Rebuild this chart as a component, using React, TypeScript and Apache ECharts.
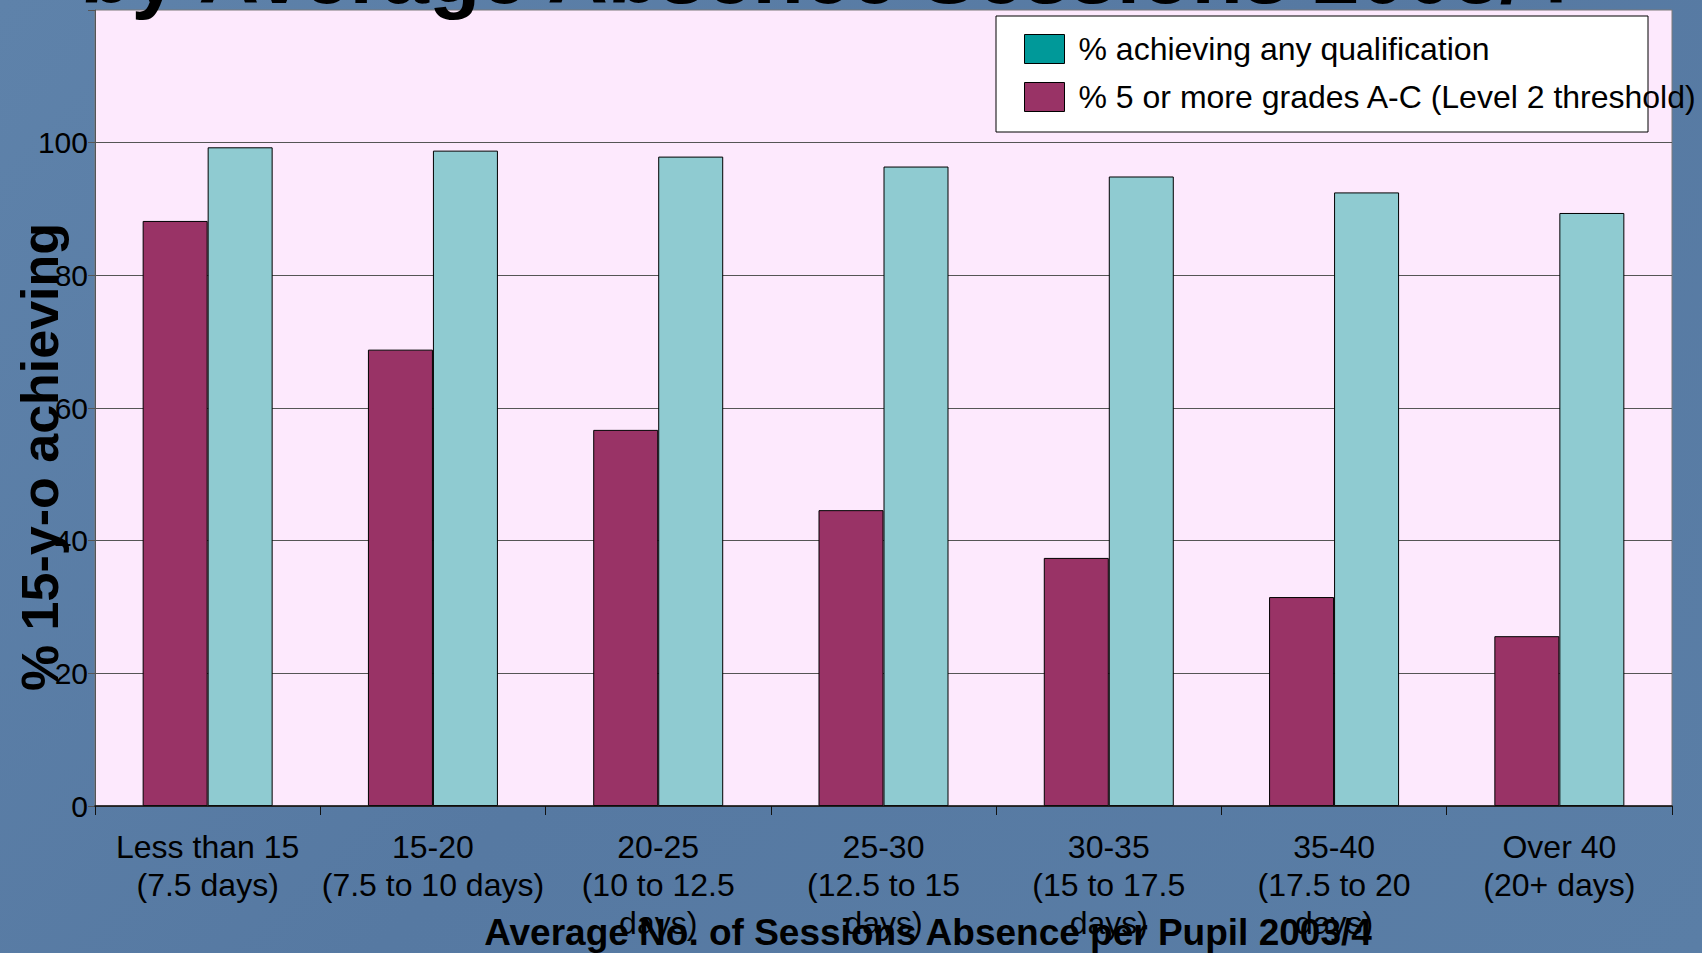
import React, { useEffect, useRef } from "react";
import * as echarts from "echarts";

const categories = [
  "Less than 15\n(7.5 days)",
  "15-20\n(7.5 to 10 days)",
  "20-25\n(10 to 12.5\ndays)",
  "25-30\n(12.5 to 15\ndays)",
  "30-35\n(15 to 17.5\ndays)",
  "35-40\n(17.5 to 20\ndays)",
  "Over 40\n(20+ days)",
];
const level2Values = [88.2, 68.8, 56.7, 44.6, 37.4, 31.5, 25.6];
const anyQualValues = [99.3, 98.8, 97.9, 96.4, 94.9, 92.5, 89.4];
const yTicks = [0, 20, 40, 60, 80, 100];

const NAME_ANY = "% achieving any qualification";
const NAME_L2 = "% 5 or more grades A-C (Level 2 threshold)";
const TITLE = "by Average Absence Sessions 2003/4";
const X_TITLE = "Average No. of Sessions Absence per Pupil 2003/4";
const Y_TITLE = "% 15-y-o achieving";

const FONT = '"Liberation Sans", Arial, Helvetica, sans-serif';

export default function App() {
  const ref = useRef<HTMLDivElement>(null);
  useEffect(() => {
    const chart = echarts.init(ref.current!, null, { renderer: "svg" });
    chart.setOption({
      animation: false,
      backgroundColor: "transparent",
      textStyle: { fontFamily: FONT },
      grid: {
        left: 95,
        right: 30,
        top: 10,
        bottom: 147,
        show: true,
        backgroundColor: "#fde9fd",
        borderColor: "#7a7a7a",
        borderWidth: 1,
      },
      legend: {
        orient: "vertical",
        left: 1024,
        top: 33,
        padding: 0,
        itemWidth: 40,
        itemHeight: 29,
        itemGap: 16,
        icon: "rect",
        z: 6,
        textStyle: { fontSize: 32, color: "#000", fontFamily: FONT, padding: [0, 0, 0, 9] },
        data: [
          { name: NAME_ANY, itemStyle: { color: "#009999", borderColor: "#000", borderWidth: 1 } },
          { name: NAME_L2, itemStyle: { color: "#993366", borderColor: "#000", borderWidth: 1 } },
        ],
      },
      xAxis: {
        type: "category",
        data: categories,
        z: 5,
        axisLine: { lineStyle: { color: "#111", width: 1.5 } },
        axisTick: { show: true, length: 9, lineStyle: { color: "#111" } },
        axisLabel: {
          interval: 0,
          fontSize: 32,
          lineHeight: 38,
          color: "#000",
          margin: 22,
          fontFamily: FONT,
        },
        splitLine: { show: false },
      },
      yAxis: {
        type: "value",
        min: 0,
        max: 120,
        interval: 20,
        axisLine: { show: true, lineStyle: { color: "#555" } },
        axisTick: { show: true, length: 7, lineStyle: { color: "#555" } },
        axisLabel: {
          fontSize: 30,
          color: "#000",
          margin: 7,
          fontFamily: FONT,
          formatter: (v: number) => (yTicks.indexOf(v) >= 0 ? String(v) : ""),
        },
        splitLine: { show: true, showMaxLine: false, lineStyle: { color: "#555", width: 1 } },
      },
      series: [
        {
          name: NAME_L2,
          type: "bar",
          data: level2Values,
          barWidth: 65,
          barGap: "0%",
          itemStyle: { color: "#993366", borderColor: "#000", borderWidth: 1 },
        },
        {
          name: NAME_ANY,
          type: "bar",
          data: anyQualValues,
          barWidth: 65,
          barGap: "0%",
          itemStyle: { color: "#8fcbd1", borderColor: "#000", borderWidth: 1 },
        },
      ],
      graphic: [
        {
          type: "rect",
          z: 3,
          shape: { x: 996, y: 16, width: 652, height: 116 },
          style: { fill: "#ffffff", stroke: "#000", lineWidth: 1 },
        },
        {
          type: "text",
          z: 20,
          x: 825,
          y: -26,
          style: {
            text: TITLE,
            fill: "#000",
            font: `bold 84px ${FONT}`,
            align: "center",
            verticalAlign: "middle",
          },
        },
        {
          type: "text",
          z: 20,
          x: 40,
          y: 457,
          rotation: Math.PI / 2,
          style: {
            text: Y_TITLE,
            fill: "#000",
            font: `bold 52px ${FONT}`,
            align: "center",
            verticalAlign: "middle",
          },
        },
        {
          type: "text",
          z: 20,
          x: 928,
          y: 932,
          style: {
            text: X_TITLE,
            fill: "#000",
            font: `bold 37px ${FONT}`,
            align: "center",
            verticalAlign: "middle",
          },
        },
      ],
    });
    return () => chart.dispose();
  }, []);
  return (
    <div
      ref={ref}
      style={{
        position: "absolute",
        left: 0,
        top: 0,
        width: 1702,
        height: 953,
        background: "linear-gradient(135deg, #5e82aa 0%, #5679a2 50%, #5a7ea6 100%)",
      }}
    />
  );
}
